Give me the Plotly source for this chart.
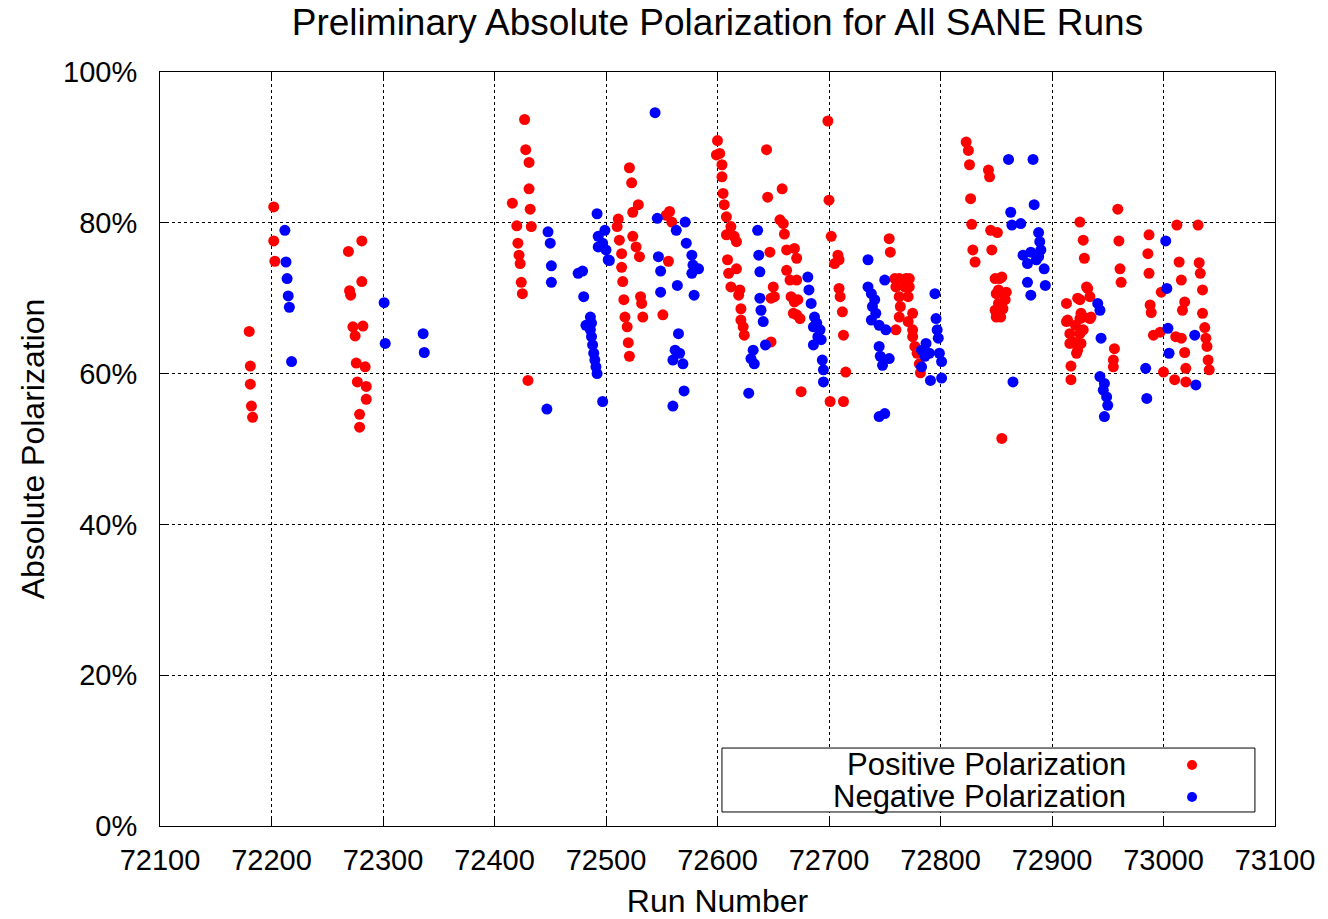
import plotly.graph_objects as go

# ---------------- data ----------------
pos_run = [72180, 72181, 72181, 72182, 72183, 72202, 72202, 72203,
           72269, 72270, 72271, 72273, 72275, 72276, 72277, 72279, 72279, 72281, 72281, 72282, 72284, 72285, 72285,
           72416, 72420, 72421, 72422, 72423, 72424, 72425, 72427, 72428, 72430, 72431, 72431, 72432, 72433,
           72510, 72511, 72512, 72514, 72514, 72515, 72516, 72517, 72519, 72520, 72521, 72521, 72523, 72524, 72524,
           72527, 72529, 72530, 72531, 72532, 72533, 72551, 72554, 72556, 72557, 72559,
           72599, 72600, 72602, 72604, 72604, 72605, 72606, 72608, 72608, 72609, 72610, 72612, 72612, 72615, 72617,
           72617, 72619, 72620, 72621, 72621, 72623, 72624,
           72644, 72645, 72647, 72648, 72648, 72650, 72651, 72656, 72658, 72659, 72660, 72662, 72662, 72665, 72666,
           72668, 72669, 72669, 72671, 72671, 72671, 72672, 72674, 72675,
           72699, 72700, 72701, 72702, 72705, 72708, 72709, 72709, 72710, 72712, 72713, 72713, 72715,
           72754, 72755, 72759, 72760, 72760, 72763, 72763, 72763, 72764, 72768, 72769, 72771, 72771, 72772, 72772,
           72775, 72775, 72775, 72777, 72779, 72781, 72782,
           72823, 72825, 72826, 72827, 72828, 72829, 72831, 72843, 72844, 72845, 72846, 72849, 72849, 72851, 72850,
           72850, 72852, 72852, 72853, 72855, 72855, 72856, 72857, 72858, 72859, 72854,
           72913, 72913, 72914, 72916, 72916, 72917, 72917, 72919, 72921, 72922, 72923, 72923, 72923, 72925, 72925,
           72925, 72925, 72926, 72926, 72928, 72928, 72928, 72929, 72931, 72932, 72934, 72934, 72935,
           72955, 72955, 72956, 72959, 72960, 72961, 72962,
           72986, 72987, 72987, 72988, 72989, 72991, 72997, 72998, 73000, 73010, 73011, 73012, 73014, 73016, 73016,
           73017, 73019, 73019, 73020, 73020, 73031, 73032, 73033, 73035, 73035, 73037, 73038, 73039, 73040, 73041]
pos_pol = [65.6, 61.0, 58.6, 55.7, 54.2, 82.1, 77.6, 74.9,
           76.2, 71.0, 70.4, 66.2, 65.0, 61.4, 58.9, 54.6, 52.9, 77.6, 72.2, 66.3, 60.9, 58.3, 56.6,
           82.6, 79.6, 77.3, 75.7, 74.6, 72.1, 70.6, 93.7, 89.7, 59.1, 88.0, 84.5, 81.8, 79.5,
           79.5, 80.5, 77.7, 75.9, 74.1, 72.2, 69.8, 67.5, 66.2, 64.1, 62.3, 87.3, 85.3, 81.4, 78.2,
           76.8, 82.4, 75.5, 70.2, 69.3, 67.5, 67.8, 81.0, 74.9, 81.5, 80.1,
           89.0, 90.9, 89.2, 87.7, 86.1, 83.9, 82.4, 80.8, 78.4, 75.1, 73.3, 79.5, 71.5, 78.2, 77.5,
           73.9, 70.4, 71.1, 68.6, 67.1, 66.2, 65.1,
           89.7, 83.4, 76.1, 70.0, 64.2, 71.5, 70.2, 80.4, 84.5, 79.9, 78.5, 76.4, 73.7, 72.4, 70.2,
           68.0, 76.6, 69.5, 75.3, 72.4, 67.8, 69.8, 67.3, 57.6,
           93.5, 83.0, 56.3, 78.2, 74.6, 75.7, 75.1, 71.3, 70.2, 68.2, 65.1, 56.3, 60.2,
           77.9, 76.1, 72.6, 71.5, 65.8, 72.6, 70.2, 67.5, 68.9, 71.5, 72.6, 70.2, 66.9, 72.6, 71.5,
           68.0, 65.8, 64.9, 63.6, 62.7, 61.3, 60.1,
           90.7, 89.6, 87.7, 83.2, 79.8, 76.4, 74.8, 87.0, 86.1, 79.0, 76.4, 72.6, 68.4, 78.7, 70.6,
           67.5, 71.1, 69.3, 72.6, 72.8, 51.4, 68.6, 70.6, 69.8, 70.8, 67.5,
           69.3, 66.9, 67.1, 65.3, 64.0, 61.0, 59.2, 64.2, 66.4, 62.7, 70.0, 64.0, 63.1, 80.1, 69.8,
           67.3, 65.3, 68.0, 64.0, 77.7, 67.5, 65.8, 75.3, 71.5, 71.3, 70.2, 67.3, 67.5,
           61.8, 60.9, 63.3, 81.8, 77.6, 73.9, 72.1,
           75.9, 78.4, 73.3, 69.1, 68.1, 65.1, 65.5, 70.8, 60.2, 59.2, 64.9, 79.7, 74.8, 72.4, 64.7,
           68.4, 69.5, 62.8, 60.7, 58.9, 79.7, 74.7, 73.3, 71.1, 68.0, 66.1, 64.7, 63.6, 61.8, 60.5]

neg_run = [72212, 72213, 72214, 72215, 72216, 72218, 72301, 72302, 72336, 72337,
           72447, 72448, 72450, 72451, 72451,
           72475, 72479, 72480, 72482, 72486, 72487, 72486, 72487, 72488, 72489, 72490, 72491, 72492,
           72492, 72493, 72493, 72497, 72499, 72500, 72502, 72503, 72497,
           72544, 72546, 72547, 72549, 72549, 72562, 72566, 72569, 72560, 72560, 72563, 72564, 72565, 72570,
           72571, 72572, 72577, 72577, 72578, 72579, 72583,
           72628, 72630, 72632, 72633, 72636, 72637, 72638, 72638, 72639, 72641, 72643,
           72681, 72682, 72684, 72686, 72686, 72687, 72689, 72690, 72692, 72693, 72694, 72695, 72695,
           72735, 72735, 72738, 72738, 72739, 72741, 72742, 72745, 72745, 72745, 72746, 72748, 72750, 72750,
           72751, 72754,
           72783, 72783, 72786, 72787, 72790, 72791, 72795, 72796, 72797, 72798, 72799, 72801, 72801,
           72861, 72863, 72864, 72865, 72872, 72874, 72878, 72878, 72881, 72881, 72883, 72884, 72886, 72888,
           72888, 72889, 72890, 72893, 72894,
           72941, 72943, 72943, 72944, 72946, 72947, 72947, 72949, 72950,
           72984, 72985, 73002, 73003, 73004, 73005, 73028, 73029]
neg_pol = [79.0, 74.8, 72.6, 70.3, 68.8, 61.6, 69.4, 64.0, 65.3, 62.8,
           55.3, 78.8, 77.3, 74.3, 72.1,
           73.3, 73.6, 70.2, 66.4, 67.5, 66.7, 65.8, 64.9, 63.8, 62.7, 61.8, 60.9, 60.0,
           81.2, 78.2, 76.8, 77.3, 79.0, 76.4, 75.1, 75.0, 56.3,
           94.6, 80.6, 75.5, 73.6, 70.8, 63.1, 62.7, 61.3, 61.8, 55.7, 79.0, 71.7, 65.3, 57.7,
           80.1, 77.3, 75.7, 73.3, 74.4, 70.4, 73.9,
           57.4, 62.0, 63.1, 61.3, 79.0, 75.7, 73.5, 70.0, 68.4, 66.9, 63.8,
           72.8, 71.1, 69.3, 66.2, 63.8, 67.5, 66.7, 64.9, 65.8, 64.5, 61.8, 60.5, 58.9,
           75.1, 71.5, 70.6, 67.1, 68.9, 69.8, 68.0, 66.4, 63.6, 54.3, 62.3, 61.1, 72.4, 54.7,
           65.8, 62.0,
           63.1, 60.9, 62.3, 64.0, 62.7, 59.1, 70.6, 67.3, 65.8, 64.7, 62.7, 61.6, 59.4,
           88.4, 81.4, 79.7, 58.9, 79.9, 75.7, 74.6, 72.1, 76.1, 70.4, 88.4, 82.4, 75.1, 78.7,
           75.5, 77.5, 76.4, 73.9, 71.7,
           69.3, 68.4, 59.6, 64.7, 57.8, 58.7, 54.3, 56.9, 55.8,
           60.7, 56.7, 77.6, 71.3, 66.0, 62.7, 65.1, 58.5]

x_ticks = [72100, 72200, 72300, 72400, 72500, 72600, 72700, 72800, 72900, 73000, 73100]
y_ticks = [0, 20, 40, 60, 80, 100]
series_names = ["Positive Polarization", "Negative Polarization"]
series_colors = ["#ff0000", "#0000ff"]

FONT = "Liberation Sans, Arial, Helvetica, sans-serif"

fig = go.Figure()
fig.add_trace(go.Scatter(x=pos_run, y=pos_pol, mode="markers", name=series_names[0],
                         marker=dict(color=series_colors[0], size=11, line=dict(width=0))))
fig.add_trace(go.Scatter(x=neg_run, y=neg_pol, mode="markers", name=series_names[1],
                         marker=dict(color=series_colors[1], size=11, line=dict(width=0))))

axis_common = dict(
    showline=True, linecolor="black", linewidth=1, mirror="allticks",
    ticks="inside", ticklen=8, tickcolor="black", tickwidth=1,
    showgrid=True, gridcolor="black", gridwidth=1, griddash="dot",
    zeroline=False, automargin=False,
    tickfont=dict(family=FONT, size=29, color="black"),
)

fig.update_xaxes(range=[72100, 73100], tickvals=x_ticks, ticktext=[str(v) for v in x_ticks],
                 title=dict(text="Run Number", font=dict(family=FONT, size=32, color="black"), standoff=18),
                 ticklabelstandoff=8, **axis_common)
fig.update_yaxes(range=[0, 100], tickvals=y_ticks, ticktext=[f"{v}%" for v in y_ticks],
                 title=dict(text="Absolute Polarization", font=dict(family=FONT, size=32, color="black"), standoff=8),
                 ticklabelstandoff=16, **axis_common)

# legend box drawn manually (text left, marker right, as in the original)
shapes = [dict(type="rect", xref="paper", yref="paper", x0=0.504, x1=0.982, y0=0.0186, y1=0.1034,
               line=dict(color="black", width=1), fillcolor="white", layer="above")]
annotations = []
for i, (nm, col) in enumerate(zip(series_names, series_colors)):
    yc = 0.081 - i * 0.0425
    annotations.append(dict(text=nm, xref="paper", yref="paper", x=0.868, y=yc, xanchor="right",
                            yanchor="middle", showarrow=False,
                            font=dict(family=FONT, size=31, color="black")))
    shapes.append(dict(type="circle", xref="paper", yref="paper", xsizemode="pixel", ysizemode="pixel",
                       xanchor=0.9256, yanchor=yc, x0=-5, x1=5, y0=-5, y1=5,
                       fillcolor=col, line=dict(color=col, width=0), layer="above"))

fig.update_layout(
    width=1328, height=919,
    margin=dict(l=160, r=53, t=72, b=93),
    paper_bgcolor="white", plot_bgcolor="white",
    showlegend=False,
    title=dict(text="Preliminary Absolute Polarization for All SANE Runs", x=0.5, xref="paper",
               y=0.976, yanchor="middle", font=dict(family=FONT, size=37, color="black")),
    shapes=shapes, annotations=annotations,
)

fig.write_html("out.html")
